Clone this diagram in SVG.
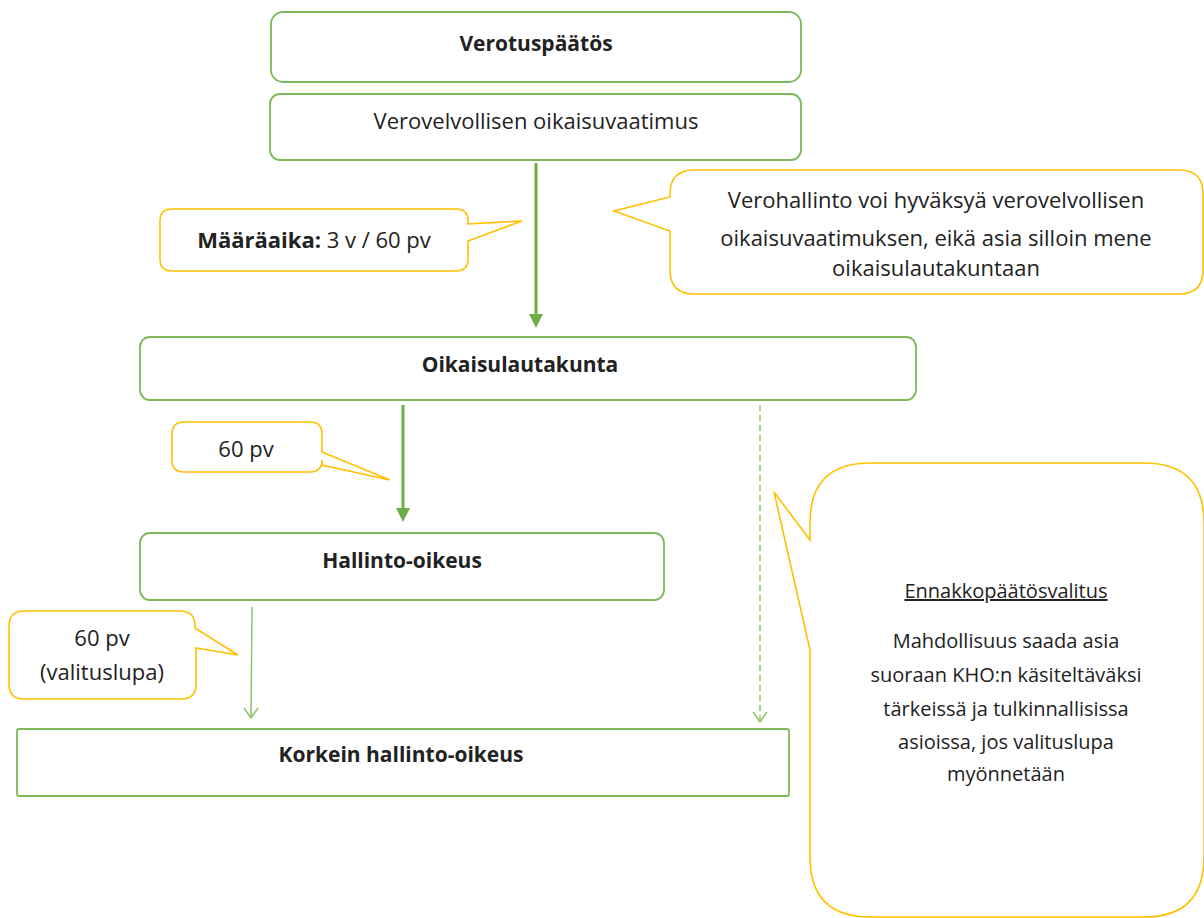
<svg xmlns="http://www.w3.org/2000/svg" width="1204" height="918" viewBox="0 0 1204 918">
<defs>
<style>
.node{fill:#fff;stroke:#7cb95a;stroke-width:1.8}
.call{fill:#fff;stroke:#ffc000;stroke-width:1.6;stroke-linejoin:miter}
.t{font-family:"Open Sans","Liberation Sans",Arial,sans-serif;font-size:22px;fill:#222;text-anchor:middle}
.b{font-weight:bold;font-size:21px}
.s{font-size:20px}
.thick{stroke:#70ad47;stroke-width:3;fill:none}
.thin{stroke:#8cc66a;stroke-width:1.5;fill:none}
.dash{stroke:#8cc66a;stroke-width:1.5;fill:none;stroke-dasharray:6 4}
</style>
</defs>
<g id="connectors">
<line class="thick" x1="536" y1="163" x2="536" y2="316"/>
<path d="M529,314 L543,314 L536,328 Z" fill="#70ad47"/>
<line class="thick" x1="403" y1="405" x2="403" y2="510"/>
<path d="M396,508 L410,508 L403,522 Z" fill="#70ad47"/>
<line class="thin" x1="252" y1="607" x2="251" y2="718"/>
<path class="thin" d="M244,708 L251,718 L258,708"/>
<line class="dash" x1="760" y1="405" x2="760" y2="720"/>
<path class="thin" d="M753,712 L760,722 L767,712"/>
</g>
<g id="verotuspaatos">
<rect class="node" x="271" y="12" width="530" height="70" rx="12"/>
<text class="t b" x="536" y="51">Verotuspäätös</text>
</g>
<g id="oikaisuvaatimus">
<rect class="node" x="270" y="94" width="531" height="66" rx="10"/>
<text class="t" x="536" y="129">Verovelvollisen oikaisuvaatimus</text>
</g>
<g id="maaraaika">
<path class="call" d="M172,209 H456 Q468,209 468,221 V224 L522,221 L468,241 V259 Q468,271 456,271 H172 Q160,271 160,259 V221 Q160,209 172,209 Z"/>
<text class="t" x="314" y="248"><tspan font-weight="bold">Määräaika:</tspan> 3 v / 60 pv</text>
</g>
<g id="verohallinto">
<path class="call" d="M694,170 H1179 Q1203,170 1203,194 V270 Q1203,294 1179,294 H694 Q670,294 670,270 V231 L614,211 L670,197 V194 Q670,170 694,170 Z"/>
<text class="t" x="936" y="208">Verohallinto voi hyväksyä verovelvollisen</text>
<text class="t" x="936" y="246">oikaisuvaatimuksen, eikä asia silloin mene</text>
<text class="t" x="936" y="276">oikaisulautakuntaan</text>
</g>
<g id="oikaisulautakunta">
<rect class="node" x="140" y="337" width="776" height="63" rx="10"/>
<text class="t b" x="520" y="372">Oikaisulautakunta</text>
</g>
<g id="callout60">
<path class="call" d="M184,422 H310 Q322,422 322,434 V452 L390,480 L322,465 V460 Q322,472 310,472 H184 Q172,472 172,460 V434 Q172,422 184,422 Z"/>
<text class="t" x="246" y="457">60 pv</text>
</g>
<g id="hallinto-oikeus">
<rect class="node" x="140" y="533" width="524" height="67" rx="10"/>
<text class="t b" x="402" y="568">Hallinto-oikeus</text>
</g>
<g id="callout60valituslupa">
<path class="call" d="M24,611 H180 Q195,611 195,626 V628 L238,655 L196,648 V684 Q196,699 181,699 H24 Q9,699 9,684 V626 Q9,611 24,611 Z"/>
<text class="t" x="102" y="646">60 pv</text>
<text class="t" x="102" y="680">(valituslupa)</text>
</g>
<g id="korkein">
<rect class="node" x="17" y="729" width="772" height="67" rx="2"/>
<text class="t b" x="401" y="762">Korkein hallinto-oikeus</text>
</g>
<g id="ennakko">
<path class="call" d="M870,463 H1144 Q1204,463 1204,523 V857 Q1204,917 1144,917 H870 Q810,917 810,857 V650 L774,492 L810,540 V523 Q810,463 870,463 Z"/>
<text class="t s" x="1006" y="598" text-decoration="underline">Ennakkopäätösvalitus</text>
<text class="t s" x="1006" y="648">Mahdollisuus saada asia</text>
<text class="t s" x="1006" y="682">suoraan KHO:n käsiteltäväksi</text>
<text class="t s" x="1006" y="716">tärkeissä ja tulkinnallisissa</text>
<text class="t s" x="1006" y="749">asioissa, jos valituslupa</text>
<text class="t s" x="1006" y="781">myönnetään</text>
</g>
</svg>
